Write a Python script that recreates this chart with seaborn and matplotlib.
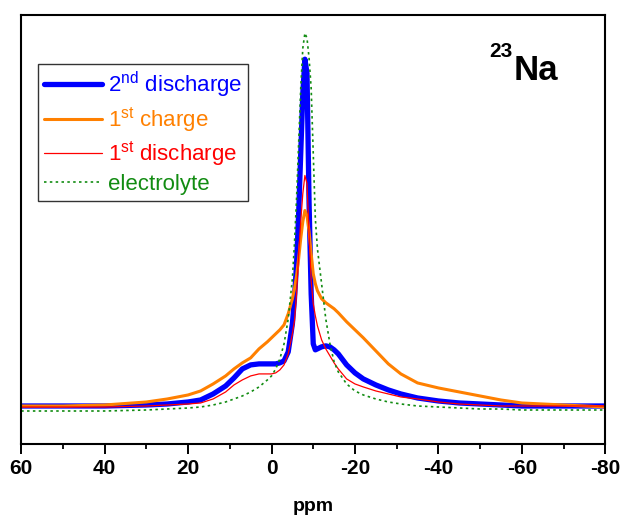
import matplotlib
matplotlib.use("Agg")
import matplotlib.pyplot as plt
import seaborn as sns
import pandas as pd
from matplotlib.ticker import MultipleLocator

# Chemical shift grid (ppm) shared by all spectra
ppm = [60, 50, 40, 30, 25, 20, 17, 14, 11, 9, 7, 5, 3, 1, 0, -1, -2, -3, -4, -5,
       -5.5, -6, -6.5, -7, -7.5, -8, -8.5, -9, -9.5, -10, -10.5, -11, -12, -13,
       -14, -15, -16, -18, -20, -22, -25, -28, -31, -35, -40, -45, -50, -55,
       -60, -70, -80]

# 23Na intensities (arb. units)
discharge_2nd = [38, 38, 38, 39, 40, 42, 44, 50, 58, 66, 75, 79, 80, 80, 80, 80,
                 81, 83, 92, 120, 145, 180, 230, 290, 350, 384, 370, 240, 150,
                 100, 94, 95, 97, 98, 97, 94, 90, 79, 71, 65, 59, 54, 50, 46, 43,
                 41, 40, 39, 38, 38, 38]
charge_1st = [38, 38, 39, 42, 45, 49, 53, 60, 68, 75, 81, 86, 95, 102, 106, 110,
              114, 119, 130, 145, 155, 168, 185, 205, 222, 233, 228, 212, 190,
              170, 160, 153, 145, 141, 138, 135, 131, 122, 114, 106, 93, 80, 70,
              61, 56, 52, 48, 44, 41, 39, 37]
discharge_1st = [37, 37, 37, 38, 39, 40, 41, 45, 52, 59, 64, 68, 70, 70, 70, 71,
                 74, 79, 90, 110, 123, 150, 190, 222, 250, 268, 260, 210, 163,
                 140, 128, 118, 104, 95, 88, 81, 75, 65, 60, 57, 53, 50, 47, 45,
                 42, 40, 39, 38, 38, 38, 38]
electrolyte = [33, 33, 33, 34, 35, 36, 37, 39, 42, 45, 48, 52, 57, 64, 68, 75, 85,
               100, 125, 165, 200, 245, 300, 355, 395, 410, 405, 385, 355, 290,
               225, 195, 160, 125, 100, 82, 72, 60, 53, 49, 45, 42, 40, 38, 37,
               36, 35, 35, 34, 34, 34]

labels = [r"2$^{\mathregular{nd}}$ discharge", r"1$^{\mathregular{st}}$ charge",
          r"1$^{\mathregular{st}}$ discharge", "electrolyte"]
series = [discharge_2nd, charge_1st, discharge_1st, electrolyte]
colors = ["#0000FF", "#FF8000", "#FF0000", "#128C12"]
widths = [3.8, 2.2, 0.9, 1.2]
styles = ["-", "-", "-", (0, (1.5, 2.0))]

sns.set_theme(style="white")
plt.rcParams["font.family"] = ["Liberation Sans", "DejaVu Sans"]
plt.rcParams["mathtext.fontset"] = "custom"
plt.rcParams["mathtext.rm"] = "Liberation Sans"
plt.rcParams["axes.unicode_minus"] = False

fig = plt.figure(figsize=(6.24, 5.2), dpi=100)
ax = fig.add_axes([0.034, 0.146, 0.936, 0.825])

for vals, lab, c, w, ls in zip(series, labels, colors, widths, styles):
    df = pd.DataFrame({"ppm": ppm, "intensity": vals})
    sns.lineplot(data=df, x="ppm", y="intensity", ax=ax, color=c, linewidth=w,
                 linestyle=ls, label=lab, sort=False, estimator=None)

ax.set_xlim(60, -80)
ax.set_ylim(0, 428)
ax.set_yticks([])
ax.set_ylabel("")
ax.xaxis.set_major_locator(MultipleLocator(20))
ax.xaxis.set_minor_locator(MultipleLocator(10))
ax.tick_params(axis="x", which="major", direction="out", length=7, width=1.4,
               bottom=True, labelsize=15, pad=4, color="black", labelcolor="black")
ax.tick_params(axis="x", which="minor", direction="out", length=3.6, width=1.3,
               bottom=True, color="black")
for t in ax.get_xticklabels():
    t.set_fontweight("bold")
ax.set_xlabel("ppm", fontsize=14, fontweight="bold", labelpad=14, color="black")

for s in ax.spines.values():
    s.set_color("black")
    s.set_linewidth(1.5)

leg = ax.legend(loc="upper left", bbox_to_anchor=(0.029, 0.887), borderaxespad=0,
                fontsize=16, frameon=True, fancybox=False, edgecolor="black",
                handlelength=2.6, handletextpad=0.25, labelspacing=0.24,
                borderpad=0.28)
leg.get_frame().set_linewidth(1.0)
for txt, c in zip(leg.get_texts(), colors):
    txt.set_color(c)

# Nucleus label
fig.text(514 / 624, 1 - 80 / 520, "Na", fontsize=25, fontweight="bold",
         ha="left", va="baseline", color="black")
fig.text(512 / 624, 1 - 57 / 520, "23", fontsize=15, fontweight="bold",
         ha="right", va="baseline", color="black")

fig.savefig("out.png", dpi=100, facecolor="white")
